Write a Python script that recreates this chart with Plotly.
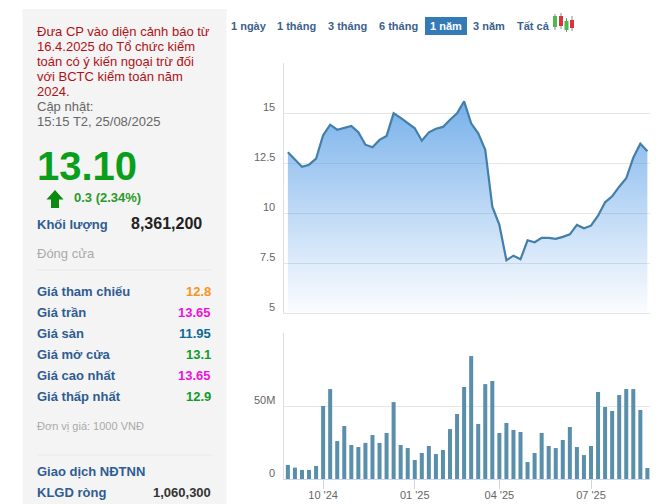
import pandas as pd
import plotly.graph_objects as go

W = 660
H = 504

# weekly closes and volumes, one year to 25/08/2025
weeks = pd.date_range("2024-09-02", periods=52, freq="7D").strftime("%Y-%m-%d").tolist()
price = [13.05, 12.7, 12.33, 12.43, 12.73, 13.9, 14.43, 14.18, 14.27, 14.37,
         14.05, 13.43, 13.3, 13.67, 13.87, 15.0, 14.77, 14.52, 14.25, 13.63,
         14.05, 14.23, 14.32, 14.68, 15.0, 15.6, 14.5, 14.0, 13.17, 10.33,
         9.42, 7.65, 7.88, 7.7, 8.65, 8.55, 8.77, 8.77, 8.72, 8.82,
         8.95, 9.42, 9.25, 9.38, 9.88, 10.55, 10.85, 11.33, 11.75, 12.78,
         13.48, 13.1]
volume = [9.6, 7.8, 6.2, 6.2, 8.9, 50, 61.6, 26, 36.3, 23.3,
          21.9, 24.7, 30.1, 24.7, 31.5, 52.7, 23.3, 21.2, 13, 17.8,
          22.6, 17.1, 19.9, 34.2, 44.5, 63, 84.2, 37.7, 65, 67.1,
          31.5, 38.4, 33.6, 32.2, 11.6, 17.8, 31.5, 22.6, 21.2, 26.7,
          35.6, 21.9, 16.4, 22.6, 59.6, 49.3, 46.6, 57.5, 61.6, 61.6,
          47.3, 7.5]
volume = [v * 1e6 for v in volume]

month_ticks = ["2024-10-07", "2025-01-06", "2025-03-31", "2025-06-30"]
month_labels = ["10 '24", "01 '25", "04 '25", "07 '25"]
price_ticks = [5, 7.5, 10, 12.5, 15]
volume_ticks = [0, 50e6]
volume_labels = ["0", "50M"]

warning_lines = ["Đưa CP vào diện cảnh báo từ", "16.4.2025 do Tổ chức kiểm",
                 "toán có ý kiến ngoại trừ đối", "với BCTC kiểm toán năm", "2024."]
stat_labels = ["Giá tham chiếu", "Giá trần", "Giá sàn", "Giá mở cửa", "Giá cao nhất", "Giá thấp nhất"]
stat_values = ["12.8", "13.65", "11.95", "13.1", "13.65", "12.9"]
stat_colors = ["#f7941d", "#ee11dd", "#0f6a94", "#129a2b", "#ee11dd", "#129a2b"]
periods = ["1 ngày", "1 tháng", "3 tháng", "6 tháng", "1 năm", "3 năm", "Tất cả"]
period_x = [249, 296.5, 347, 399, 446, 489, 533]

BLUE = "#2f5c92"
FONT = "Liberation Sans"


def px(x):
    return x / W


def py(y):
    return 1 - y / H


def text(x, y, s, size, color, bold=False, anchor="left"):
    if bold:
        s = "<b>" + s + "</b>"
    fig.add_annotation(x=px(x), y=py(y), xref="paper", yref="paper", text=s, showarrow=False,
                       xanchor=anchor, yanchor="middle", borderpad=0,
                       font=dict(family=FONT, size=size, color=color))


def rect(x0, y0, x1, y1, color):
    fig.add_shape(type="rect", xref="paper", yref="paper", x0=px(x0), y0=py(y0), x1=px(x1), y1=py(y1),
                  fillcolor=color, line_width=0, layer="below")


def hline(x0, x1, y, color):
    fig.add_shape(type="line", xref="paper", yref="paper", x0=px(x0), y0=py(y), x1=px(x1), y1=py(y),
                  line=dict(color=color, width=1), layer="below")


fig = go.Figure()

fig.add_trace(go.Scatter(
    x=weeks, y=price, mode="lines", line=dict(color="#437fa8", width=2.2),
    fill="tozeroy",
    fillgradient=dict(type="vertical", start=5, stop=15.6,
                      colorscale=[[0, "rgba(70,145,230,0.02)"], [1, "rgba(55,140,225,0.68)"]]),
    xaxis="x", yaxis="y", showlegend=False))
fig.add_trace(go.Bar(
    x=weeks, y=volume, marker=dict(color="#5a8fab", line_width=0),
    xaxis="x2", yaxis="y2", showlegend=False))

x_range = [-0.55, 51.37]
x_domain = [px(284), px(650)]

fig.update_layout(
    width=W, height=H, margin=dict(l=0, r=0, t=0, b=0, pad=0),
    paper_bgcolor="white", plot_bgcolor="rgba(0,0,0,0)",
    bargap=0.43, showlegend=False,
    font=dict(family=FONT, size=11, color="#666666"),
    xaxis=dict(type="category", categoryorder="array", categoryarray=weeks, domain=x_domain,
               range=x_range, anchor="y", showgrid=False, showticklabels=False, ticks="",
               showline=True, linecolor="#e6e6e6", linewidth=1),
    yaxis=dict(domain=[py(313.3), py(63.3)], range=[5, 17.5], anchor="x",
               tickvals=price_ticks + [17.5], showticklabels=False, ticks="",
               showgrid=True, gridcolor="#e6e6e6", gridwidth=1, zeroline=False,
               showline=True, linecolor="#dddddd", linewidth=1),
    xaxis2=dict(type="category", categoryorder="array", categoryarray=weeks, domain=x_domain,
                range=x_range, anchor="y2", showgrid=False, tickmode="array",
                tickvals=month_ticks, ticktext=month_labels, ticks="outside", ticklen=9,
                tickcolor="#ccd6eb", tickwidth=1, tickangle=0, ticklabelstandoff=-3,
                tickfont=dict(family=FONT, size=11, color="#666666"),
                showline=True, linecolor="#ccd6eb", linewidth=1),
    yaxis2=dict(domain=[py(479), py(333)], range=[0, 100e6], anchor="x2",
                tickvals=volume_ticks + [100e6], showticklabels=False, ticks="",
                showgrid=True, gridcolor="#e6e6e6", gridwidth=1, zeroline=False,
                showline=True, linecolor="#dddddd", linewidth=1),
)

# y labels sit above their gridlines, so they are annotations rather than tick labels
for v in price_ticks:
    fig.add_annotation(x=px(277), xref="paper", y=v, yref="y", text=str(v), showarrow=False,
                       xanchor="right", yanchor="middle", yshift=6,
                       font=dict(family=FONT, size=11, color="#666666"))
for v, s in zip(volume_ticks, volume_labels):
    fig.add_annotation(x=px(277), xref="paper", y=v, yref="y2", text=s, showarrow=False,
                       xanchor="right", yanchor="middle", yshift=6,
                       font=dict(family=FONT, size=11, color="#666666"))

# left info panel
rect(22.5, 9, 226.5, 504, "#f4f4f4")
for i, line in enumerate(warning_lines):
    text(35.5, 31 + i * 15, line, 13, "#b01116")
text(35.5, 106.5, "Cập nhật:", 13, "#666666")
text(35.5, 121, "15:15 T2, 25/08/2025", 13, "#666666")
text(36, 166, "13.10", 40, "#0a9f1a", bold=True)
fig.add_shape(type="path", xref="paper", yref="paper", line_width=0, fillcolor="#0a8a12",
              path="M {} {} L {} {} L {} {} L {} {} L {} {} L {} {} L {} {} Z".format(
                  px(55), py(190), px(63.5), py(199.5), px(59), py(199.5), px(59), py(208),
                  px(51), py(208), px(51), py(199.5), px(46.5), py(199.5)))
text(73, 198, "0.3 (2.34%)", 13, "#2a9a2a", bold=True)
text(35.5, 225, "Khối lượng", 13, BLUE, bold=True)
text(203, 223, "8,361,200", 16, "#222222", bold=True, anchor="right")
text(35.5, 253, "Đóng cửa", 13, "#aaaaaa")
hline(37, 212, 270, "#e8e8e8")
for i in range(len(stat_labels)):
    text(35.5, 291 + i * 21, stat_labels[i], 13, BLUE, bold=True)
    text(212, 291 + i * 21, stat_values[i], 13, stat_colors[i], bold=True, anchor="right")
text(35.5, 426, "Đơn vị giá: 1000 VNĐ", 11, "#aaaaaa")
hline(37, 212, 455, "#e8e8e8")
text(35.5, 471, "Giao dịch NĐTNN", 13, BLUE, bold=True)
text(35.5, 492, "KLGD ròng", 13, BLUE, bold=True)
text(212, 492, "1,060,300", 13, "#333333", bold=True, anchor="right")

# period buttons
fig.add_shape(type="rect", xref="paper", yref="paper", x0=px(425), y0=py(17), x1=px(467), y1=py(35),
              fillcolor="#337ab7", line_width=0, layer="below")
for p, x in zip(periods, period_x):
    color = "white" if p == "1 năm" else "#3b5f8f"
    text(x, 25.5, p, 11, color, bold=True, anchor="center")

# candle icon
for x, y0, y1, wick0, wick1, c in [(555, 16, 27, 14, 30, "#4fb84f"), (561, 16, 26, 13, 29, "#d9343f"),
                                   (566.5, 21, 30, 18, 32, "#4fb84f"), (572, 20, 28, 16, 31, "#d9343f")]:
    fig.add_shape(type="line", xref="paper", yref="paper", x0=px(x), x1=px(x), y0=py(wick0), y1=py(wick1),
                  line=dict(color="#8a8a8a", width=1))
    fig.add_shape(type="rect", xref="paper", yref="paper", x0=px(x - 2), x1=px(x + 2), y0=py(y0), y1=py(y1),
                  fillcolor=c, line_width=0)

fig.write_html("out.html", config=dict(displayModeBar=False),
               post_script="document.body.style.margin='0';document.body.style.height='504px';"
                           "document.documentElement.style.overflow='hidden';document.body.style.overflow='hidden';")
